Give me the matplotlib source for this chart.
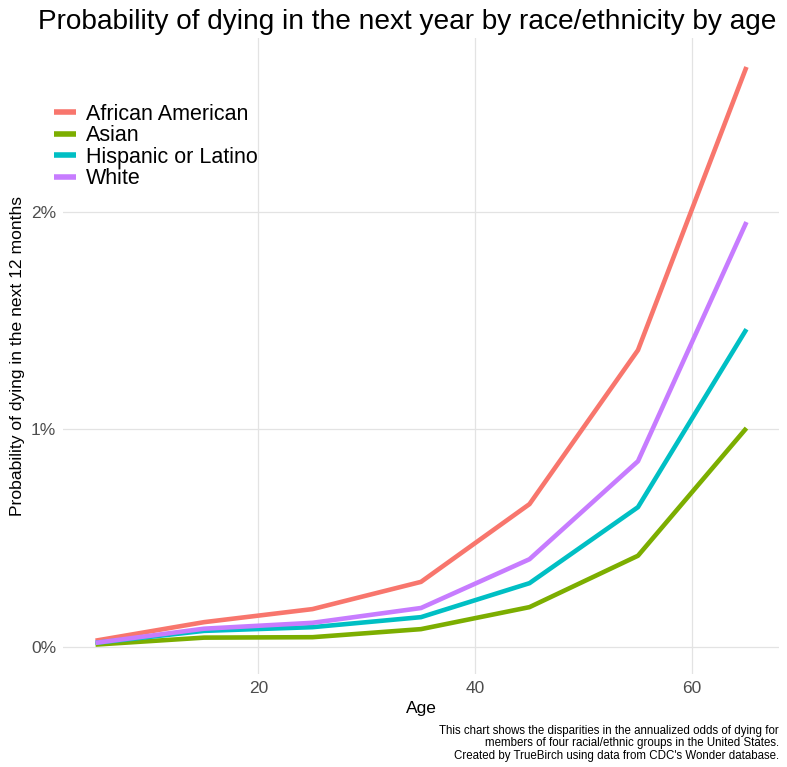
import numpy as np
import matplotlib.pyplot as plt
from matplotlib.ticker import FuncFormatter

plt.rcParams["font.family"] = ["Liberation Sans", "DejaVu Sans"]

# ===================== data (probability in %) =====================
ages = [5, 15, 25, 35, 45, 55, 65]
african_american = [0.03, 0.115, 0.175, 0.30, 0.657, 1.364, 2.664]
asian = [0.012, 0.044, 0.046, 0.083, 0.184, 0.42, 1.006]
hispanic = [0.02, 0.075, 0.092, 0.138, 0.294, 0.643, 1.46]
white = [0.02, 0.085, 0.112, 0.18, 0.404, 0.854, 1.952]

groups = ["African American", "Asian", "Hispanic or Latino", "White"]
series = [african_american, asian, hispanic, white]
colors = ["#F8766D", "#7CAE00", "#00BFC4", "#C77CFF"]

fig = plt.figure(figsize=(7.87, 7.67), dpi=100)
ax = fig.add_axes([63 / 787, 1 - 674 / 767, (779 - 63) / 787, (674 - 38) / 767])

for name, vals, col in zip(groups, series, colors):
    ax.plot(ages, vals, color=col, lw=3.3, label=name, solid_capstyle="butt")

# ===================== axes look (ggplot minimal) =====================
ax.set_xlim(2, 68)
ax.set_ylim(-0.123, 2.797)
ax.set_xticks([20, 40, 60])
ax.set_yticks([0, 1, 2])
ax.yaxis.set_major_formatter(FuncFormatter(lambda v, p: f"{v:.0f}%"))
ax.grid(True, color="#E3E3E3", lw=0.9)
ax.set_axisbelow(True)
for s in ax.spines.values():
    s.set_visible(False)
ax.tick_params(length=0, labelsize=12.5, labelcolor="#4D4D4D", pad=5)

ax.set_xlabel("Age", fontsize=12.5, labelpad=4)
ax.set_ylabel("Probability of dying in the next 12 months", fontsize=12.6, labelpad=4)
fig.suptitle("Probability of dying in the next year by race/ethnicity by age",
             x=0.518, y=0.988, va="top", fontsize=20.2)

leg = ax.legend(loc="upper left", bbox_to_anchor=(-0.024, 0.91), frameon=False,
                fontsize=15.5, handlelength=1.0, handletextpad=0.45,
                labelspacing=0.02, borderaxespad=0)
for h in leg.get_lines():
    h.set_linewidth(4)

fig.text(779 / 787, 1 - 725 / 767,
         "This chart shows the disparities in the annualized odds of dying for\n"
         "members of four racial/ethnic groups in the United States.\n"
         "Created by TrueBirch using data from CDC's Wonder database.",
         ha="right", va="top", fontsize=8.3, linespacing=1.05)

fig.savefig("out.png", dpi=100, facecolor="white")
